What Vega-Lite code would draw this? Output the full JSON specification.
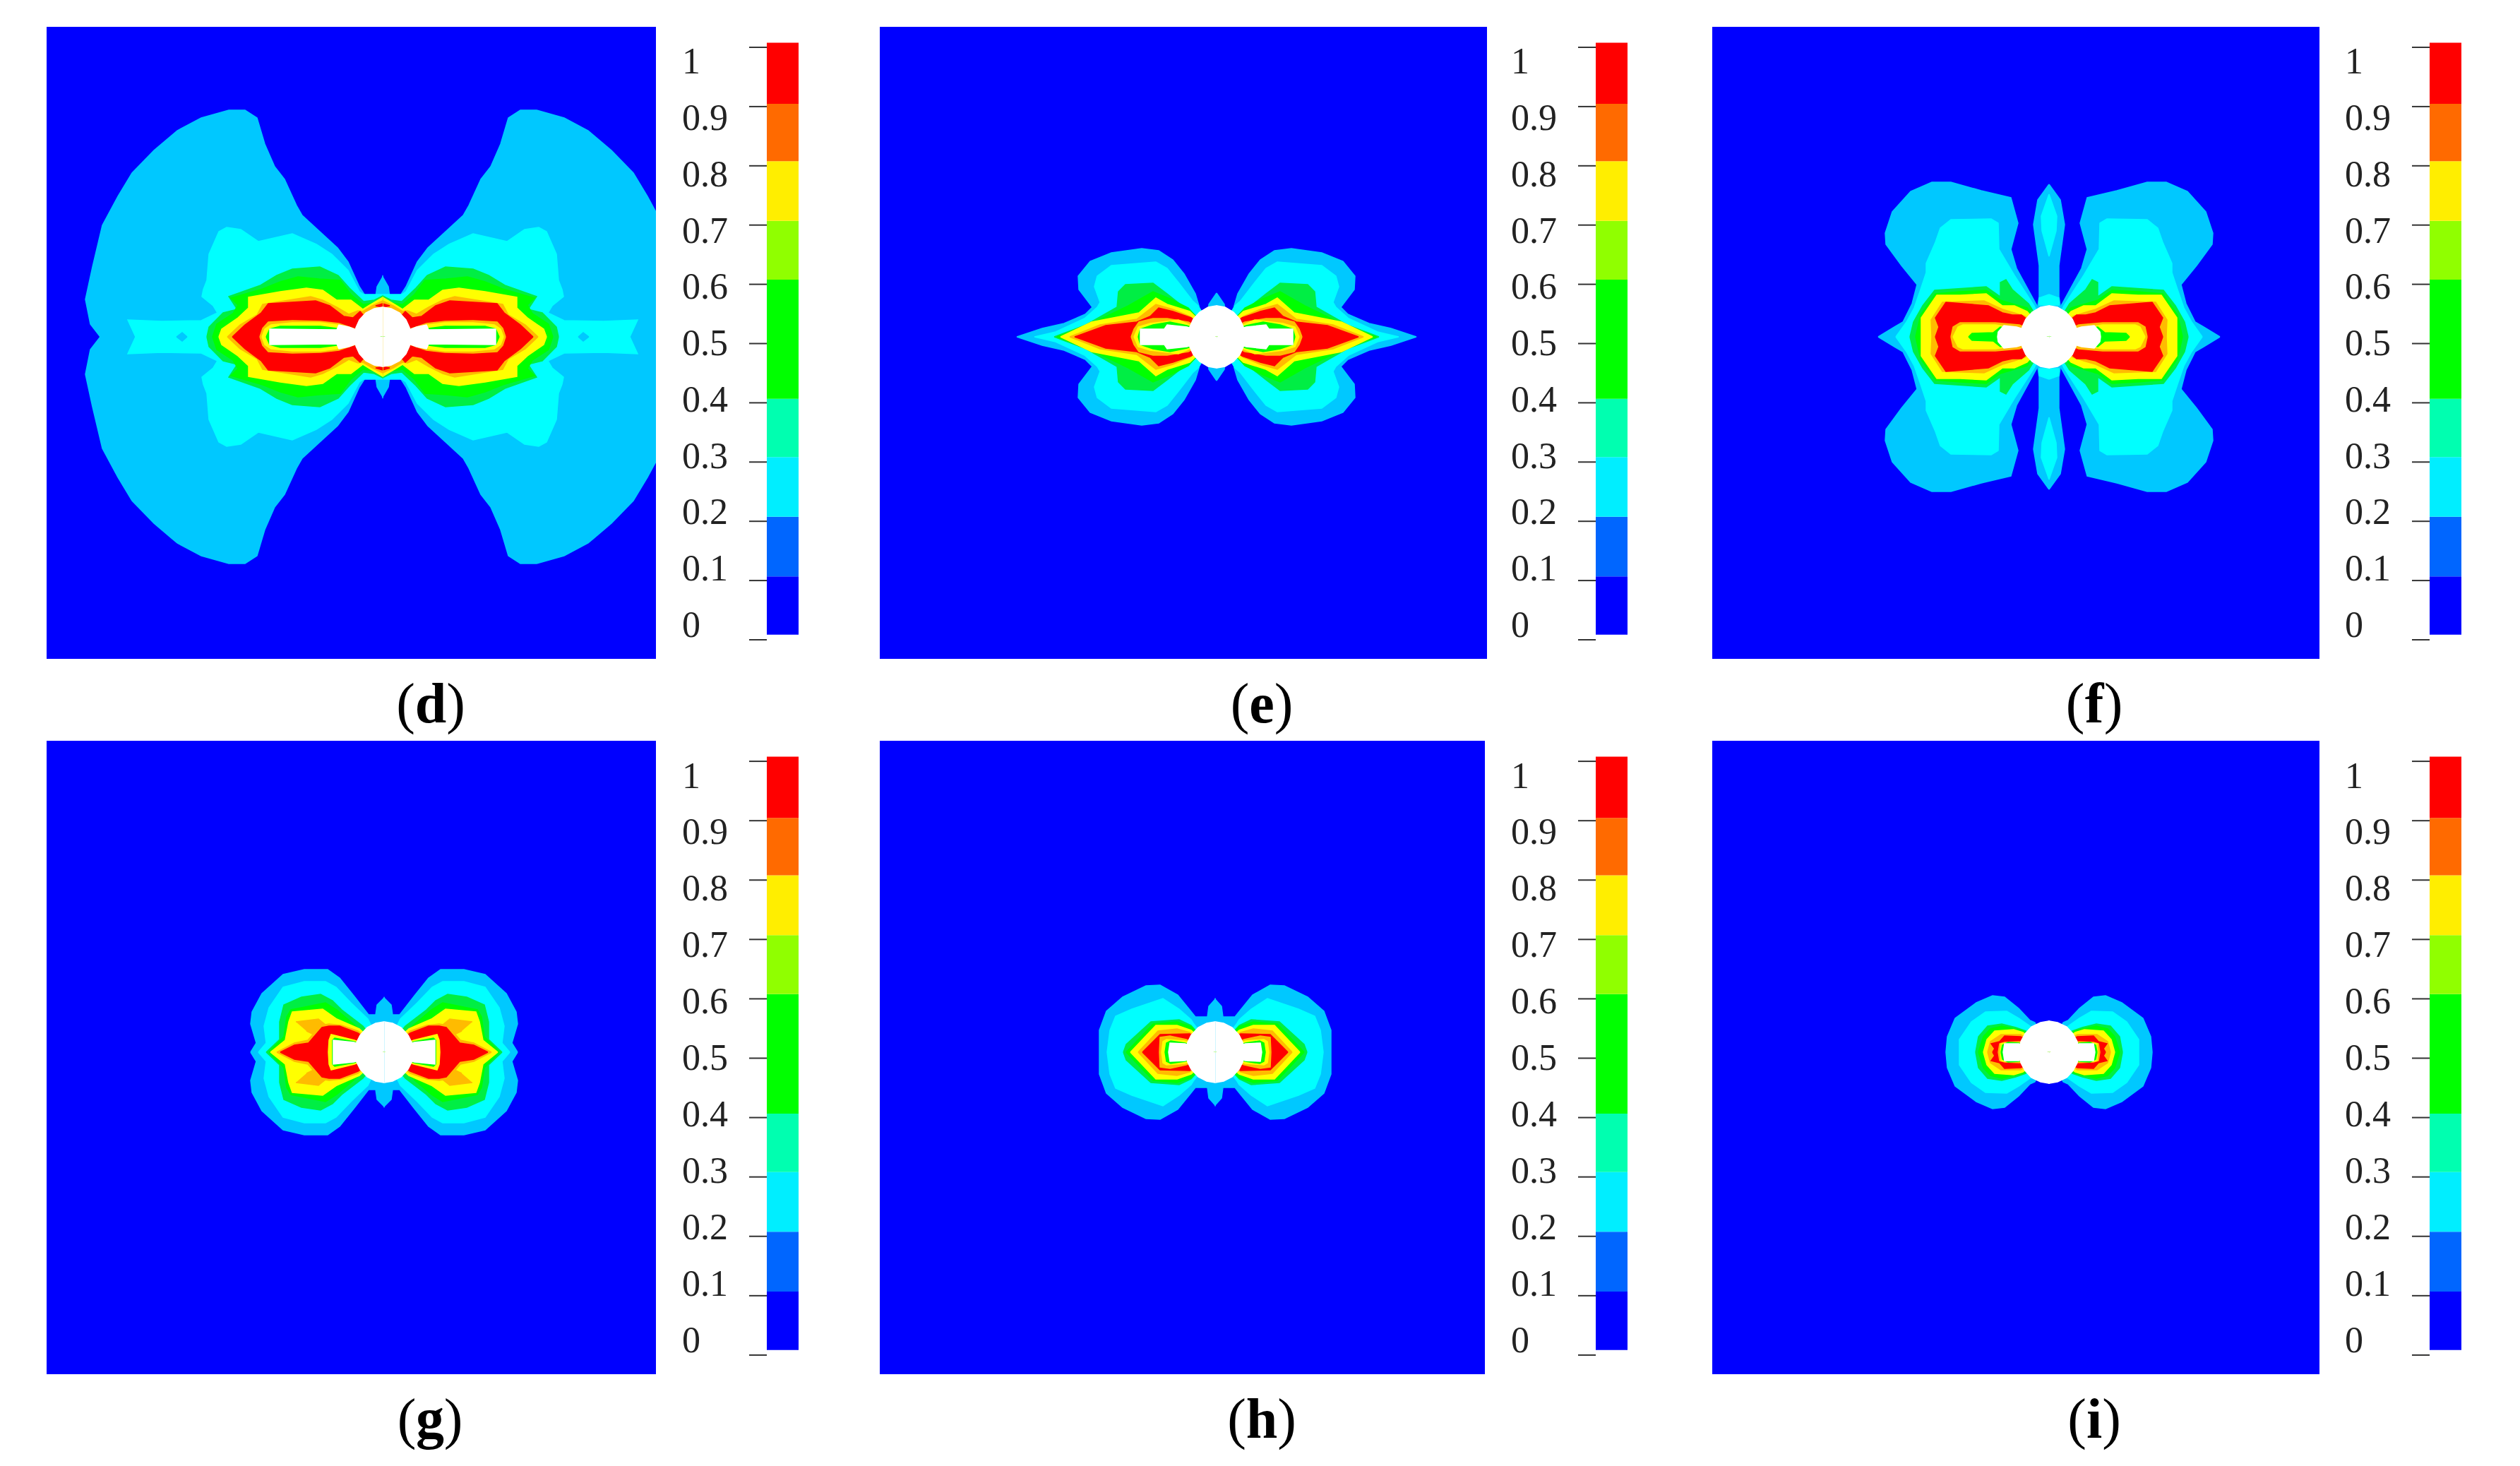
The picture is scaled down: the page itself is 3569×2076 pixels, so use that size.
{"$schema":"https://vega.github.io/schema/vega-lite/v6.json","background":"white","padding":{"left":66,"top":38,"right":0,"bottom":130},"bounds":"flush","columns":6,"spacing":{"row":116,"column":0},"config":{"view":{"stroke":null}},"resolve":{"scale":{"color":"independent"}},
"datasets":{
"bars":[{"lo":0.0085,"hi":0.1069,"c":"a"},{"lo":0.1069,"hi":0.2076,"c":"b"},{"lo":0.2076,"hi":0.3083,"c":"c"},{"lo":0.3083,"hi":0.4066,"c":"d"},{"lo":0.4066,"hi":0.608,"c":"e"},{"lo":0.608,"hi":0.7072,"c":"f"},{"lo":0.7072,"hi":0.8079,"c":"g"},{"lo":0.8079,"hi":0.9047,"c":"h"},{"lo":0.9047,"hi":1.0077,"c":"i"}],
"ticks":[{"v":0},{"v":0.1},{"v":0.2},{"v":0.3},{"v":0.4},{"v":0.5},{"v":0.6},{"v":0.7},{"v":0.8},{"v":0.9},{"v":1}],
"d":[{"g":1,"l":1,"x":400,"y":0},{"g":1,"l":1,"x":414,"y":18},{"g":1,"l":1,"x":421,"y":53},{"g":1,"l":1,"x":411,"y":99},{"g":1,"l":1,"x":397,"y":158},{"g":1,"l":1,"x":375,"y":199},{"g":1,"l":1,"x":355,"y":232},{"g":1,"l":1,"x":324,"y":264},{"g":1,"l":1,"x":291,"y":292},{"g":1,"l":1,"x":257,"y":310},{"g":1,"l":1,"x":218,"y":321},{"g":1,"l":1,"x":195,"y":321},{"g":1,"l":1,"x":178,"y":310},{"g":1,"l":1,"x":167,"y":273},{"g":1,"l":1,"x":153,"y":241},{"g":1,"l":1,"x":139,"y":223},{"g":1,"l":1,"x":122,"y":186},{"g":1,"l":1,"x":114,"y":172},{"g":1,"l":1,"x":89,"y":149},{"g":1,"l":1,"x":64,"y":126},{"g":1,"l":1,"x":49,"y":106},{"g":1,"l":1,"x":33,"y":71},{"g":1,"l":1,"x":24,"y":57},{"g":1,"l":1,"x":10,"y":57},{"g":1,"l":1,"x":8,"y":71},{"g":1,"l":1,"x":0,"y":85},{"g":1,"l":1,"x":0,"y":0},
{"g":2,"l":2,"x":350,"y":0},{"g":2,"l":2,"x":361,"y":24},{"g":2,"l":2,"x":313,"y":22},{"g":2,"l":2,"x":257,"y":23},{"g":2,"l":2,"x":234,"y":34},{"g":2,"l":2,"x":240,"y":44},{"g":2,"l":2,"x":256,"y":57},{"g":2,"l":2,"x":254,"y":67},{"g":2,"l":2,"x":249,"y":80},{"g":2,"l":2,"x":246,"y":117},{"g":2,"l":2,"x":232,"y":149},{"g":2,"l":2,"x":221,"y":155},{"g":2,"l":2,"x":201,"y":152},{"g":2,"l":2,"x":176,"y":135},{"g":2,"l":2,"x":128,"y":146},{"g":2,"l":2,"x":94,"y":131},{"g":2,"l":2,"x":72,"y":117},{"g":2,"l":2,"x":49,"y":94},{"g":2,"l":2,"x":33,"y":64},{"g":2,"l":2,"x":27,"y":60},{"g":2,"l":2,"x":0,"y":60},{"g":2,"l":2,"x":0,"y":0},
{"g":3,"l":1,"x":292,"y":0},{"g":3,"l":1,"x":284,"y":6},{"g":3,"l":1,"x":277,"y":0},
{"g":4,"l":3,"x":249,"y":0},{"g":4,"l":3,"x":246,"y":14},{"g":4,"l":3,"x":226,"y":34},{"g":4,"l":3,"x":206,"y":39},{"g":4,"l":3,"x":218,"y":57},{"g":4,"l":3,"x":173,"y":73},{"g":4,"l":3,"x":150,"y":87},{"g":4,"l":3,"x":128,"y":96},{"g":4,"l":3,"x":89,"y":99},{"g":4,"l":3,"x":63,"y":87},{"g":4,"l":3,"x":47,"y":69},{"g":4,"l":3,"x":27,"y":50},{"g":4,"l":3,"x":12,"y":52},{"g":4,"l":3,"x":0,"y":58},{"g":4,"l":3,"x":0,"y":0},
{"g":5,"l":4,"x":241,"y":0},{"g":5,"l":4,"x":235,"y":18},{"g":5,"l":4,"x":212,"y":33},{"g":5,"l":4,"x":205,"y":45},{"g":5,"l":4,"x":215,"y":55},{"g":5,"l":4,"x":170,"y":68},{"g":5,"l":4,"x":145,"y":78},{"g":5,"l":4,"x":120,"y":85},{"g":5,"l":4,"x":90,"y":82},{"g":5,"l":4,"x":60,"y":80},{"g":5,"l":4,"x":45,"y":60},{"g":5,"l":4,"x":28,"y":46},{"g":5,"l":4,"x":12,"y":48},{"g":5,"l":4,"x":0,"y":53},{"g":5,"l":4,"x":0,"y":0},
{"g":6,"l":5,"x":232,"y":0},{"g":6,"l":5,"x":228,"y":11},{"g":6,"l":5,"x":205,"y":27},{"g":6,"l":5,"x":190,"y":41},{"g":6,"l":5,"x":190,"y":56},{"g":6,"l":5,"x":145,"y":64},{"g":6,"l":5,"x":108,"y":69},{"g":6,"l":5,"x":85,"y":66},{"g":6,"l":5,"x":65,"y":52},{"g":6,"l":5,"x":45,"y":52},{"g":6,"l":5,"x":28,"y":39},{"g":6,"l":5,"x":20,"y":44},{"g":6,"l":5,"x":0,"y":56},{"g":6,"l":5,"x":0,"y":0},
{"g":7,"l":6,"x":220,"y":0},{"g":7,"l":6,"x":202,"y":17},{"g":7,"l":6,"x":178,"y":31},{"g":7,"l":6,"x":170,"y":46},{"g":7,"l":6,"x":102,"y":57},{"g":7,"l":6,"x":85,"y":52},{"g":7,"l":6,"x":65,"y":42},{"g":7,"l":6,"x":48,"y":32},{"g":7,"l":6,"x":35,"y":37},{"g":7,"l":6,"x":28,"y":36},{"g":7,"l":6,"x":15,"y":44},{"g":7,"l":6,"x":0,"y":51},{"g":7,"l":6,"x":0,"y":0},
{"g":8,"l":7,"x":213,"y":0},{"g":8,"l":7,"x":195,"y":17},{"g":8,"l":7,"x":172,"y":34},{"g":8,"l":7,"x":162,"y":47},{"g":8,"l":7,"x":95,"y":51},{"g":8,"l":7,"x":75,"y":44},{"g":8,"l":7,"x":55,"y":29},{"g":8,"l":7,"x":42,"y":27},{"g":8,"l":7,"x":32,"y":36},{"g":8,"l":7,"x":0,"y":0},
{"g":9,"l":7,"x":0,"y":47},{"g":9,"l":7,"x":10,"y":44},{"g":9,"l":7,"x":0,"y":42},
{"g":10,"l":6,"x":174,"y":0},{"g":10,"l":6,"x":170,"y":12},{"g":10,"l":6,"x":162,"y":21},{"g":10,"l":6,"x":128,"y":23},{"g":10,"l":6,"x":88,"y":22},{"g":10,"l":6,"x":62,"y":19},{"g":10,"l":6,"x":42,"y":12},{"g":10,"l":6,"x":0,"y":0},
{"g":11,"l":5,"x":171,"y":0},{"g":11,"l":5,"x":167,"y":11},{"g":11,"l":5,"x":158,"y":17},{"g":11,"l":5,"x":128,"y":20},{"g":11,"l":5,"x":88,"y":20},{"g":11,"l":5,"x":65,"y":17},{"g":11,"l":5,"x":0,"y":0},
{"g":12,"l":4,"x":165,"y":0},{"g":12,"l":4,"x":160,"y":11},{"g":12,"l":4,"x":145,"y":15},{"g":12,"l":4,"x":88,"y":15},{"g":12,"l":4,"x":65,"y":12},{"g":12,"l":4,"x":0,"y":0},
{"g":13,"l":8,"x":160,"y":0},{"g":13,"l":8,"x":160,"y":11},{"g":13,"l":8,"x":65,"y":10},{"g":13,"l":8,"x":62,"y":17},{"g":13,"l":8,"x":48,"y":14},{"g":13,"l":8,"x":40,"y":11},{"g":13,"l":8,"x":0,"y":0},
{"g":14,"l":8,"x":40,"y":0},{"g":14,"l":8,"x":38,"y":13},{"g":14,"l":8,"x":33,"y":24},{"g":14,"l":8,"x":24,"y":34},{"g":14,"l":8,"x":12,"y":40},{"g":14,"l":8,"x":0,"y":42},{"g":14,"l":8,"x":0,"y":0}],
"e":[{"g":1,"l":1,"x":283,"y":0},{"g":1,"l":1,"x":247,"y":12},{"g":1,"l":1,"x":216,"y":19},{"g":1,"l":1,"x":186,"y":32},{"g":1,"l":1,"x":176,"y":42},{"g":1,"l":1,"x":195,"y":67},{"g":1,"l":1,"x":196,"y":86},{"g":1,"l":1,"x":179,"y":107},{"g":1,"l":1,"x":149,"y":119},{"g":1,"l":1,"x":106,"y":125},{"g":1,"l":1,"x":82,"y":122},{"g":1,"l":1,"x":62,"y":109},{"g":1,"l":1,"x":46,"y":89},{"g":1,"l":1,"x":30,"y":61},{"g":1,"l":1,"x":25,"y":44},{"g":1,"l":1,"x":22,"y":25},{"g":1,"l":1,"x":0,"y":0},
{"g":2,"l":1,"x":0,"y":62},{"g":2,"l":1,"x":11,"y":46},{"g":2,"l":1,"x":12,"y":30},{"g":2,"l":1,"x":0,"y":0},
{"g":3,"l":2,"x":258,"y":0},{"g":3,"l":2,"x":228,"y":7},{"g":3,"l":2,"x":187,"y":26},{"g":3,"l":2,"x":169,"y":42},{"g":3,"l":2,"x":165,"y":49},{"g":3,"l":2,"x":173,"y":71},{"g":3,"l":2,"x":169,"y":86},{"g":3,"l":2,"x":149,"y":101},{"g":3,"l":2,"x":86,"y":106},{"g":3,"l":2,"x":70,"y":97},{"g":3,"l":2,"x":54,"y":77},{"g":3,"l":2,"x":34,"y":51},{"g":3,"l":2,"x":26,"y":44},{"g":3,"l":2,"x":0,"y":0},
{"g":4,"l":3,"x":230,"y":0},{"g":4,"l":3,"x":185,"y":17},{"g":4,"l":3,"x":141,"y":42},{"g":4,"l":3,"x":139,"y":64},{"g":4,"l":3,"x":129,"y":74},{"g":4,"l":3,"x":90,"y":76},{"g":4,"l":3,"x":70,"y":61},{"g":4,"l":3,"x":46,"y":42},{"g":4,"l":3,"x":34,"y":34},{"g":4,"l":3,"x":0,"y":0},
{"g":5,"l":4,"x":226,"y":0},{"g":5,"l":4,"x":181,"y":17},{"g":5,"l":4,"x":125,"y":44},{"g":5,"l":4,"x":90,"y":64},{"g":5,"l":4,"x":66,"y":54},{"g":5,"l":4,"x":40,"y":41},{"g":5,"l":4,"x":32,"y":32},{"g":5,"l":4,"x":0,"y":0},
{"g":6,"l":5,"x":221,"y":0},{"g":6,"l":5,"x":177,"y":21},{"g":6,"l":5,"x":110,"y":34},{"g":6,"l":5,"x":86,"y":55},{"g":6,"l":5,"x":70,"y":46},{"g":6,"l":5,"x":38,"y":36},{"g":6,"l":5,"x":0,"y":0},
{"g":7,"l":6,"x":208,"y":0},{"g":7,"l":6,"x":165,"y":17},{"g":7,"l":6,"x":113,"y":25},{"g":7,"l":6,"x":86,"y":46},{"g":7,"l":6,"x":62,"y":39},{"g":7,"l":6,"x":38,"y":29},{"g":7,"l":6,"x":0,"y":0},
{"g":8,"l":7,"x":201,"y":0},{"g":8,"l":7,"x":157,"y":16},{"g":8,"l":7,"x":113,"y":21},{"g":8,"l":7,"x":94,"y":29},{"g":8,"l":7,"x":82,"y":41},{"g":8,"l":7,"x":62,"y":36},{"g":8,"l":7,"x":36,"y":27},{"g":8,"l":7,"x":0,"y":0},
{"g":9,"l":6,"x":121,"y":0},{"g":9,"l":6,"x":117,"y":11},{"g":9,"l":6,"x":110,"y":21},{"g":9,"l":6,"x":90,"y":26},{"g":9,"l":6,"x":70,"y":26},{"g":9,"l":6,"x":40,"y":21},{"g":9,"l":6,"x":0,"y":0},
{"g":10,"l":5,"x":117,"y":0},{"g":10,"l":5,"x":111,"y":14},{"g":10,"l":5,"x":94,"y":19},{"g":10,"l":5,"x":54,"y":24},{"g":10,"l":5,"x":38,"y":17},{"g":10,"l":5,"x":0,"y":0},
{"g":11,"l":4,"x":111,"y":0},{"g":11,"l":4,"x":108,"y":11},{"g":11,"l":4,"x":90,"y":17},{"g":11,"l":4,"x":66,"y":21},{"g":11,"l":4,"x":42,"y":16},{"g":11,"l":4,"x":0,"y":0},
{"g":12,"l":8,"x":108,"y":0},{"g":12,"l":8,"x":108,"y":11},{"g":12,"l":8,"x":74,"y":11},{"g":12,"l":8,"x":70,"y":17},{"g":12,"l":8,"x":42,"y":14},{"g":12,"l":8,"x":0,"y":0},
{"g":13,"l":8,"x":40,"y":0},{"g":13,"l":8,"x":38,"y":14},{"g":13,"l":8,"x":33,"y":25},{"g":13,"l":8,"x":24,"y":35},{"g":13,"l":8,"x":12,"y":42},{"g":13,"l":8,"x":0,"y":44},{"g":13,"l":8,"x":0,"y":0}],
"f":[{"g":1,"l":1,"x":242,"y":0},{"g":1,"l":1,"x":219,"y":14},{"g":1,"l":1,"x":207,"y":21},{"g":1,"l":1,"x":194,"y":47},{"g":1,"l":1,"x":187,"y":74},{"g":1,"l":1,"x":209,"y":101},{"g":1,"l":1,"x":231,"y":131},{"g":1,"l":1,"x":232,"y":147},{"g":1,"l":1,"x":222,"y":177},{"g":1,"l":1,"x":196,"y":206},{"g":1,"l":1,"x":166,"y":219},{"g":1,"l":1,"x":139,"y":219},{"g":1,"l":1,"x":96,"y":207},{"g":1,"l":1,"x":54,"y":197},{"g":1,"l":1,"x":44,"y":161},{"g":1,"l":1,"x":54,"y":124},{"g":1,"l":1,"x":46,"y":97},{"g":1,"l":1,"x":17,"y":44},{"g":1,"l":1,"x":0,"y":0},
{"g":2,"l":1,"x":0,"y":216},{"g":2,"l":1,"x":16,"y":194},{"g":2,"l":1,"x":22,"y":159},{"g":2,"l":1,"x":14,"y":101},{"g":2,"l":1,"x":14,"y":57},{"g":2,"l":1,"x":16,"y":44},{"g":2,"l":1,"x":0,"y":0},
{"g":3,"l":2,"x":0,"y":202},{"g":3,"l":2,"x":11,"y":171},{"g":3,"l":2,"x":10,"y":150},{"g":3,"l":2,"x":0,"y":114},
{"g":4,"l":2,"x":0,"y":60},{"g":4,"l":2,"x":14,"y":55},{"g":4,"l":2,"x":14,"y":45},{"g":4,"l":2,"x":0,"y":45},
{"g":5,"l":2,"x":217,"y":0},{"g":5,"l":2,"x":202,"y":21},{"g":5,"l":2,"x":191,"y":41},{"g":5,"l":2,"x":182,"y":67},{"g":5,"l":2,"x":174,"y":91},{"g":5,"l":2,"x":174,"y":104},{"g":5,"l":2,"x":161,"y":134},{"g":5,"l":2,"x":154,"y":154},{"g":5,"l":2,"x":139,"y":166},{"g":5,"l":2,"x":82,"y":167},{"g":5,"l":2,"x":72,"y":161},{"g":5,"l":2,"x":71,"y":124},{"g":5,"l":2,"x":49,"y":87},{"g":5,"l":2,"x":21,"y":44},{"g":5,"l":2,"x":0,"y":0},
{"g":6,"l":3,"x":197,"y":0},{"g":6,"l":3,"x":192,"y":21},{"g":6,"l":3,"x":179,"y":44},{"g":6,"l":3,"x":162,"y":66},{"g":6,"l":3,"x":89,"y":71},{"g":6,"l":3,"x":69,"y":57},{"g":6,"l":3,"x":69,"y":77},{"g":6,"l":3,"x":61,"y":81},{"g":6,"l":3,"x":52,"y":67},{"g":6,"l":3,"x":29,"y":47},{"g":6,"l":3,"x":0,"y":0},
{"g":7,"l":4,"x":189,"y":0},{"g":7,"l":4,"x":182,"y":31},{"g":7,"l":4,"x":161,"y":61},{"g":7,"l":4,"x":126,"y":64},{"g":7,"l":4,"x":89,"y":66},{"g":7,"l":4,"x":69,"y":52},{"g":7,"l":4,"x":49,"y":46},{"g":7,"l":4,"x":31,"y":41},{"g":7,"l":4,"x":0,"y":0},
{"g":8,"l":5,"x":181,"y":0},{"g":8,"l":5,"x":181,"y":27},{"g":8,"l":5,"x":159,"y":59},{"g":8,"l":5,"x":126,"y":59},{"g":8,"l":5,"x":89,"y":61},{"g":8,"l":5,"x":66,"y":44},{"g":8,"l":5,"x":49,"y":44},{"g":8,"l":5,"x":31,"y":36},{"g":8,"l":5,"x":0,"y":0},
{"g":9,"l":6,"x":166,"y":0},{"g":9,"l":6,"x":167,"y":24},{"g":9,"l":6,"x":151,"y":49},{"g":9,"l":6,"x":92,"y":51},{"g":9,"l":6,"x":66,"y":39},{"g":9,"l":6,"x":49,"y":34},{"g":9,"l":6,"x":34,"y":29},{"g":9,"l":6,"x":0,"y":0},
{"g":10,"l":7,"x":161,"y":0},{"g":10,"l":7,"x":156,"y":14},{"g":10,"l":7,"x":161,"y":27},{"g":10,"l":7,"x":146,"y":49},{"g":10,"l":7,"x":86,"y":44},{"g":10,"l":7,"x":66,"y":34},{"g":10,"l":7,"x":52,"y":31},{"g":10,"l":7,"x":39,"y":31},{"g":10,"l":7,"x":0,"y":0},
{"g":11,"l":6,"x":139,"y":0},{"g":11,"l":6,"x":136,"y":14},{"g":11,"l":6,"x":126,"y":20},{"g":11,"l":6,"x":76,"y":20},{"g":11,"l":6,"x":42,"y":17},{"g":11,"l":6,"x":0,"y":0},
{"g":12,"l":5,"x":136,"y":0},{"g":12,"l":5,"x":129,"y":14},{"g":12,"l":5,"x":122,"y":17},{"g":12,"l":5,"x":76,"y":17},{"g":12,"l":5,"x":42,"y":12},{"g":12,"l":5,"x":0,"y":0},
{"g":13,"l":4,"x":114,"y":0},{"g":13,"l":4,"x":109,"y":5},{"g":13,"l":4,"x":79,"y":6},{"g":13,"l":4,"x":69,"y":14},{"g":13,"l":4,"x":0,"y":0},
{"g":14,"l":8,"x":73,"y":0},{"g":14,"l":8,"x":72,"y":7},{"g":14,"l":8,"x":64,"y":16},{"g":14,"l":8,"x":46,"y":14},{"g":14,"l":8,"x":0,"y":0},
{"g":15,"l":8,"x":40,"y":0},{"g":15,"l":8,"x":38,"y":14},{"g":15,"l":8,"x":33,"y":25},{"g":15,"l":8,"x":24,"y":35},{"g":15,"l":8,"x":12,"y":42},{"g":15,"l":8,"x":0,"y":44},{"g":15,"l":8,"x":0,"y":0}],
"g":[{"g":1,"l":1,"x":189,"y":0},{"g":1,"l":1,"x":181,"y":13},{"g":1,"l":1,"x":189,"y":40},{"g":1,"l":1,"x":187,"y":57},{"g":1,"l":1,"x":173,"y":83},{"g":1,"l":1,"x":143,"y":110},{"g":1,"l":1,"x":113,"y":117},{"g":1,"l":1,"x":80,"y":117},{"g":1,"l":1,"x":63,"y":105},{"g":1,"l":1,"x":43,"y":80},{"g":1,"l":1,"x":22,"y":53},{"g":1,"l":1,"x":12,"y":53},{"g":1,"l":1,"x":10,"y":67},{"g":1,"l":1,"x":0,"y":77},{"g":1,"l":1,"x":0,"y":0},
{"g":2,"l":2,"x":178,"y":0},{"g":2,"l":2,"x":167,"y":13},{"g":2,"l":2,"x":170,"y":37},{"g":2,"l":2,"x":163,"y":63},{"g":2,"l":2,"x":143,"y":92},{"g":2,"l":2,"x":113,"y":100},{"g":2,"l":2,"x":83,"y":100},{"g":2,"l":2,"x":68,"y":92},{"g":2,"l":2,"x":47,"y":70},{"g":2,"l":2,"x":23,"y":47},{"g":2,"l":2,"x":0,"y":0},
{"g":3,"l":3,"x":167,"y":0},{"g":3,"l":3,"x":148,"y":18},{"g":3,"l":3,"x":148,"y":43},{"g":3,"l":3,"x":142,"y":67},{"g":3,"l":3,"x":117,"y":78},{"g":3,"l":3,"x":90,"y":82},{"g":3,"l":3,"x":73,"y":73},{"g":3,"l":3,"x":60,"y":60},{"g":3,"l":3,"x":30,"y":37},{"g":3,"l":3,"x":0,"y":0},
{"g":4,"l":4,"x":163,"y":0},{"g":4,"l":4,"x":142,"y":22},{"g":4,"l":4,"x":138,"y":50},{"g":4,"l":4,"x":132,"y":60},{"g":4,"l":4,"x":83,"y":70},{"g":4,"l":4,"x":67,"y":60},{"g":4,"l":4,"x":40,"y":37},{"g":4,"l":4,"x":0,"y":0},
{"g":5,"l":5,"x":161,"y":0},{"g":5,"l":5,"x":140,"y":17},{"g":5,"l":5,"x":135,"y":43},{"g":5,"l":5,"x":130,"y":57},{"g":5,"l":5,"x":87,"y":61},{"g":5,"l":5,"x":67,"y":47},{"g":5,"l":5,"x":35,"y":33},{"g":5,"l":5,"x":0,"y":0},
{"g":6,"l":6,"x":125,"y":43},{"g":6,"l":6,"x":93,"y":47},{"g":6,"l":6,"x":82,"y":38},{"g":6,"l":6,"x":100,"y":25},{"g":6,"l":6,"x":110,"y":30},
{"g":7,"l":6,"x":152,"y":0},{"g":7,"l":6,"x":127,"y":13},{"g":7,"l":6,"x":108,"y":17},{"g":7,"l":6,"x":90,"y":38},{"g":7,"l":6,"x":78,"y":40},{"g":7,"l":6,"x":60,"y":38},{"g":7,"l":6,"x":37,"y":30},{"g":7,"l":6,"x":0,"y":0},
{"g":8,"l":7,"x":147,"y":0},{"g":8,"l":7,"x":127,"y":10},{"g":8,"l":7,"x":107,"y":13},{"g":8,"l":7,"x":88,"y":35},{"g":8,"l":7,"x":78,"y":37},{"g":8,"l":7,"x":63,"y":37},{"g":8,"l":7,"x":37,"y":27},{"g":8,"l":7,"x":0,"y":0},
{"g":9,"l":5,"x":79,"y":0},{"g":9,"l":5,"x":78,"y":17},{"g":9,"l":5,"x":75,"y":25},{"g":9,"l":5,"x":42,"y":17},{"g":9,"l":5,"x":0,"y":0},
{"g":10,"l":4,"x":73,"y":0},{"g":10,"l":4,"x":73,"y":17},{"g":10,"l":4,"x":70,"y":20},{"g":10,"l":4,"x":43,"y":15},{"g":10,"l":4,"x":0,"y":0},
{"g":11,"l":8,"x":72,"y":0},{"g":11,"l":8,"x":72,"y":17},{"g":11,"l":8,"x":43,"y":14},{"g":11,"l":8,"x":0,"y":0},
{"g":12,"l":8,"x":41,"y":0},{"g":12,"l":8,"x":39,"y":14},{"g":12,"l":8,"x":34,"y":24},{"g":12,"l":8,"x":24,"y":35},{"g":12,"l":8,"x":12,"y":41},{"g":12,"l":8,"x":0,"y":43},{"g":12,"l":8,"x":0,"y":0}],
"h":[{"g":1,"l":1,"x":164,"y":0},{"g":1,"l":1,"x":164,"y":31},{"g":1,"l":1,"x":154,"y":58},{"g":1,"l":1,"x":131,"y":78},{"g":1,"l":1,"x":98,"y":94},{"g":1,"l":1,"x":78,"y":95},{"g":1,"l":1,"x":53,"y":81},{"g":1,"l":1,"x":36,"y":60},{"g":1,"l":1,"x":28,"y":50},{"g":1,"l":1,"x":11,"y":50},{"g":1,"l":1,"x":9,"y":65},{"g":1,"l":1,"x":0,"y":75},{"g":1,"l":1,"x":0,"y":0},
{"g":2,"l":2,"x":153,"y":0},{"g":2,"l":2,"x":149,"y":31},{"g":2,"l":2,"x":141,"y":51},{"g":2,"l":2,"x":118,"y":61},{"g":2,"l":2,"x":74,"y":76},{"g":2,"l":2,"x":51,"y":61},{"g":2,"l":2,"x":34,"y":46},{"g":2,"l":2,"x":31,"y":41},{"g":2,"l":2,"x":0,"y":0},
{"g":3,"l":3,"x":130,"y":0},{"g":3,"l":3,"x":126,"y":11},{"g":3,"l":3,"x":91,"y":43},{"g":3,"l":3,"x":51,"y":46},{"g":3,"l":3,"x":34,"y":38},{"g":3,"l":3,"x":0,"y":0},
{"g":4,"l":4,"x":126,"y":0},{"g":4,"l":4,"x":88,"y":40},{"g":4,"l":4,"x":54,"y":43},{"g":4,"l":4,"x":34,"y":36},{"g":4,"l":4,"x":0,"y":0},
{"g":5,"l":5,"x":120,"y":0},{"g":5,"l":5,"x":84,"y":38},{"g":5,"l":5,"x":54,"y":38},{"g":5,"l":5,"x":34,"y":31},{"g":5,"l":5,"x":0,"y":0},
{"g":6,"l":6,"x":109,"y":0},{"g":6,"l":6,"x":81,"y":30},{"g":6,"l":6,"x":54,"y":33},{"g":6,"l":6,"x":36,"y":28},{"g":6,"l":6,"x":0,"y":0},
{"g":7,"l":7,"x":103,"y":0},{"g":7,"l":7,"x":78,"y":25},{"g":7,"l":7,"x":36,"y":26},{"g":7,"l":7,"x":0,"y":0},
{"g":8,"l":6,"x":79,"y":0},{"g":8,"l":6,"x":78,"y":21},{"g":8,"l":6,"x":64,"y":23},{"g":8,"l":6,"x":41,"y":18},{"g":8,"l":6,"x":0,"y":0},
{"g":9,"l":5,"x":76,"y":0},{"g":9,"l":5,"x":74,"y":15},{"g":9,"l":5,"x":69,"y":18},{"g":9,"l":5,"x":43,"y":16},{"g":9,"l":5,"x":0,"y":0},
{"g":10,"l":4,"x":71,"y":0},{"g":10,"l":4,"x":69,"y":13},{"g":10,"l":4,"x":63,"y":16},{"g":10,"l":4,"x":43,"y":13},{"g":10,"l":4,"x":0,"y":0},
{"g":11,"l":8,"x":66,"y":0},{"g":11,"l":8,"x":64,"y":13},{"g":11,"l":8,"x":43,"y":12},{"g":11,"l":8,"x":0,"y":0},
{"g":12,"l":8,"x":41,"y":0},{"g":12,"l":8,"x":39,"y":14},{"g":12,"l":8,"x":34,"y":24},{"g":12,"l":8,"x":24,"y":35},{"g":12,"l":8,"x":12,"y":41},{"g":12,"l":8,"x":0,"y":43},{"g":12,"l":8,"x":0,"y":0}],
"i":[{"g":1,"l":1,"x":146,"y":0},{"g":1,"l":1,"x":144,"y":22},{"g":1,"l":1,"x":133,"y":48},{"g":1,"l":1,"x":103,"y":70},{"g":1,"l":1,"x":80,"y":80},{"g":1,"l":1,"x":63,"y":78},{"g":1,"l":1,"x":43,"y":62},{"g":1,"l":1,"x":27,"y":45},{"g":1,"l":1,"x":20,"y":42},{"g":1,"l":1,"x":0,"y":0},
{"g":2,"l":2,"x":127,"y":0},{"g":2,"l":2,"x":127,"y":18},{"g":2,"l":2,"x":110,"y":43},{"g":2,"l":2,"x":90,"y":57},{"g":2,"l":2,"x":60,"y":58},{"g":2,"l":2,"x":43,"y":48},{"g":2,"l":2,"x":27,"y":37},{"g":2,"l":2,"x":0,"y":0},
{"g":3,"l":3,"x":104,"y":0},{"g":3,"l":3,"x":100,"y":22},{"g":3,"l":3,"x":87,"y":37},{"g":3,"l":3,"x":67,"y":40},{"g":3,"l":3,"x":47,"y":35},{"g":3,"l":3,"x":33,"y":30},{"g":3,"l":3,"x":0,"y":0},
{"g":4,"l":4,"x":100,"y":0},{"g":4,"l":4,"x":93,"y":22},{"g":4,"l":4,"x":83,"y":33},{"g":4,"l":4,"x":67,"y":37},{"g":4,"l":4,"x":37,"y":30},{"g":4,"l":4,"x":0,"y":0},
{"g":5,"l":5,"x":93,"y":0},{"g":5,"l":5,"x":88,"y":18},{"g":5,"l":5,"x":77,"y":30},{"g":5,"l":5,"x":50,"y":32},{"g":5,"l":5,"x":37,"y":28},{"g":5,"l":5,"x":0,"y":0},
{"g":6,"l":6,"x":87,"y":0},{"g":6,"l":6,"x":83,"y":15},{"g":6,"l":6,"x":68,"y":25},{"g":6,"l":6,"x":40,"y":25},{"g":6,"l":6,"x":0,"y":0},
{"g":7,"l":7,"x":80,"y":0},{"g":7,"l":7,"x":77,"y":5},{"g":7,"l":7,"x":82,"y":12},{"g":7,"l":7,"x":70,"y":15},{"g":7,"l":7,"x":63,"y":23},{"g":7,"l":7,"x":40,"y":22},{"g":7,"l":7,"x":0,"y":0},
{"g":8,"l":6,"x":72,"y":0},{"g":8,"l":6,"x":70,"y":12},{"g":8,"l":6,"x":63,"y":14},{"g":8,"l":6,"x":42,"y":15},{"g":8,"l":6,"x":0,"y":0},
{"g":9,"l":5,"x":69,"y":0},{"g":9,"l":5,"x":68,"y":12},{"g":9,"l":5,"x":62,"y":13},{"g":9,"l":5,"x":42,"y":13},{"g":9,"l":5,"x":0,"y":0},
{"g":10,"l":4,"x":68,"y":0},{"g":10,"l":4,"x":66,"y":10},{"g":10,"l":4,"x":58,"y":14},{"g":10,"l":4,"x":43,"y":13},{"g":10,"l":4,"x":0,"y":0},
{"g":11,"l":8,"x":65,"y":0},{"g":11,"l":8,"x":63,"y":12},{"g":11,"l":8,"x":43,"y":12},{"g":11,"l":8,"x":0,"y":0},
{"g":12,"l":8,"x":42,"y":0},{"g":12,"l":8,"x":40,"y":15},{"g":12,"l":8,"x":34,"y":26},{"g":12,"l":8,"x":25,"y":36},{"g":12,"l":8,"x":12,"y":42},{"g":12,"l":8,"x":0,"y":44},{"g":12,"l":8,"x":0,"y":0}]
},
"concat":[
{"width":863,"height":895,"view":{"fill":"#0000ff"},"resolve":{"scale":{"x":"independent","y":"independent"}},"data":{"name":"d"},"encoding":{"detail":{"field":"g"},"order":{"value":null},"fill":{"field":"l","type":"nominal","legend":null,"scale":{"domain":[1,2,3,4,5,6,7,8],"range":["#00c8ff","#00ffff","#00ee44","#00ff00","#ffff00","#ffbb00","#ff0000","#ffffff"]}},"color":{"field":"l","type":"nominal","legend":null,"scale":{"domain":[1,2,3,4,5,6,7,8],"range":["#00c8ff","#00ffff","#00ee44","#00ff00","#ffff00","#ffbb00","#ff0000","#ffffff"]}}},
"layer":[
{"mark":{"type":"line","clip":true,"strokeWidth":1.5},"encoding":{"x":{"field":"x","type":"quantitative","axis":null,"scale":{"domain":[-476,387]}},"y":{"field":"y","type":"quantitative","axis":null,"scale":{"domain":[-456,439]}}}},
{"mark":{"type":"line","clip":true,"strokeWidth":1.5},"encoding":{"x":{"field":"x","type":"quantitative","axis":null,"scale":{"domain":[476,-387]}},"y":{"field":"y","type":"quantitative","axis":null,"scale":{"domain":[-456,439]}}}},
{"mark":{"type":"line","clip":true,"strokeWidth":1.5},"encoding":{"x":{"field":"x","type":"quantitative","axis":null,"scale":{"domain":[-476,387]}},"y":{"field":"y","type":"quantitative","axis":null,"scale":{"domain":[456,-439]}}}},
{"mark":{"type":"line","clip":true,"strokeWidth":1.5},"encoding":{"x":{"field":"x","type":"quantitative","axis":null,"scale":{"domain":[476,-387]}},"y":{"field":"y","type":"quantitative","axis":null,"scale":{"domain":[456,-439]}}}},
{"data":{"values":[{"t":"("}]},"mark":{"type":"text","font":"Liberation Serif","fontSize":80,"align":"center","baseline":"alphabetic"},"encoding":{"fill":{"value":"#000000"},"color":{"value":"#000000"},"x":{"datum":32.5,"type":"quantitative","axis":null,"scale":{"domain":[-476,387]}},"y":{"datum":-546,"type":"quantitative","axis":null,"scale":{"domain":[-456,439]}},"text":{"field":"t"}}},
{"data":{"values":[{"t":"d"}]},"mark":{"type":"text","font":"Liberation Serif","fontSize":80,"fontWeight":"bold","align":"center","baseline":"alphabetic"},"encoding":{"fill":{"value":"#000000"},"color":{"value":"#000000"},"x":{"datum":68,"type":"quantitative","axis":null,"scale":{"domain":[-476,387]}},"y":{"datum":-546,"type":"quantitative","axis":null,"scale":{"domain":[-456,439]}},"text":{"field":"t"}}},
{"data":{"values":[{"t":")"}]},"mark":{"type":"text","font":"Liberation Serif","fontSize":80,"align":"center","baseline":"alphabetic"},"encoding":{"fill":{"value":"#000000"},"color":{"value":"#000000"},"x":{"datum":103.5,"type":"quantitative","axis":null,"scale":{"domain":[-476,387]}},"y":{"datum":-546,"type":"quantitative","axis":null,"scale":{"domain":[-456,439]}},"text":{"field":"t"}}}
]},
{"width":317,"height":895,"resolve":{"scale":{"y":"independent"}},"layer":[
{"data":{"name":"bars"},"mark":{"type":"rect"},"encoding":{"x":{"datum":157,"type":"quantitative","axis":null,"scale":{"domain":[0,317]}},"x2":{"datum":202},"y":{"field":"lo","type":"quantitative","axis":null,"scale":{"domain":[-0.0322,1.0346]}},"y2":{"field":"hi"},"color":{"field":"c","type":"nominal","legend":null,"scale":{"range":["#0000ff","#0066ff","#00eeff","#00ffb0","#00ff00","#90ff00","#ffee00","#ff6a00","#ff0000"]}}}},
{"data":{"name":"ticks"},"mark":{"type":"rule","color":"#333333","strokeWidth":2},"encoding":{"x":{"datum":132,"type":"quantitative","axis":null,"scale":{"domain":[0,317]}},"x2":{"datum":157},"y":{"field":"v","type":"quantitative","axis":null,"scale":{"domain":[-0.0322,1.0346]}}}},
{"data":{"name":"ticks"},"mark":{"type":"text","align":"left","baseline":"middle","font":"Liberation Serif","fontSize":52,"color":"#222222"},"encoding":{"x":{"datum":37,"type":"quantitative","axis":null,"scale":{"domain":[0,317]}},"y":{"field":"v","type":"quantitative","axis":null,"scale":{"domain":[-0.0591,1.0632]}},"text":{"field":"v","type":"quantitative"}}}
]},
{"width":860,"height":895,"view":{"fill":"#0000ff"},"resolve":{"scale":{"x":"independent","y":"independent"}},"data":{"name":"e"},"encoding":{"detail":{"field":"g"},"order":{"value":null},"fill":{"field":"l","type":"nominal","legend":null,"scale":{"domain":[1,2,3,4,5,6,7,8],"range":["#00c8ff","#00ffff","#00ee44","#00ff00","#ffff00","#ffbb00","#ff0000","#ffffff"]}},"color":{"field":"l","type":"nominal","legend":null,"scale":{"domain":[1,2,3,4,5,6,7,8],"range":["#00c8ff","#00ffff","#00ee44","#00ff00","#ffff00","#ffbb00","#ff0000","#ffffff"]}}},
"layer":[
{"mark":{"type":"line","clip":true,"strokeWidth":1.5},"encoding":{"x":{"field":"x","type":"quantitative","axis":null,"scale":{"domain":[-477,383]}},"y":{"field":"y","type":"quantitative","axis":null,"scale":{"domain":[-456,439]}}}},
{"mark":{"type":"line","clip":true,"strokeWidth":1.5},"encoding":{"x":{"field":"x","type":"quantitative","axis":null,"scale":{"domain":[477,-383]}},"y":{"field":"y","type":"quantitative","axis":null,"scale":{"domain":[-456,439]}}}},
{"mark":{"type":"line","clip":true,"strokeWidth":1.5},"encoding":{"x":{"field":"x","type":"quantitative","axis":null,"scale":{"domain":[-477,383]}},"y":{"field":"y","type":"quantitative","axis":null,"scale":{"domain":[456,-439]}}}},
{"mark":{"type":"line","clip":true,"strokeWidth":1.5},"encoding":{"x":{"field":"x","type":"quantitative","axis":null,"scale":{"domain":[477,-383]}},"y":{"field":"y","type":"quantitative","axis":null,"scale":{"domain":[456,-439]}}}},
{"data":{"values":[{"t":"("}]},"mark":{"type":"text","font":"Liberation Serif","fontSize":80,"align":"center","baseline":"alphabetic"},"encoding":{"fill":{"value":"#000000"},"color":{"value":"#000000"},"x":{"datum":33,"type":"quantitative","axis":null,"scale":{"domain":[-477,383]}},"y":{"datum":-546,"type":"quantitative","axis":null,"scale":{"domain":[-456,439]}},"text":{"field":"t"}}},
{"data":{"values":[{"t":"e"}]},"mark":{"type":"text","font":"Liberation Serif","fontSize":80,"fontWeight":"bold","align":"center","baseline":"alphabetic"},"encoding":{"fill":{"value":"#000000"},"color":{"value":"#000000"},"x":{"datum":64,"type":"quantitative","axis":null,"scale":{"domain":[-477,383]}},"y":{"datum":-546,"type":"quantitative","axis":null,"scale":{"domain":[-456,439]}},"text":{"field":"t"}}},
{"data":{"values":[{"t":")"}]},"mark":{"type":"text","font":"Liberation Serif","fontSize":80,"align":"center","baseline":"alphabetic"},"encoding":{"fill":{"value":"#000000"},"color":{"value":"#000000"},"x":{"datum":95,"type":"quantitative","axis":null,"scale":{"domain":[-477,383]}},"y":{"datum":-546,"type":"quantitative","axis":null,"scale":{"domain":[-456,439]}},"text":{"field":"t"}}}
]},
{"width":319,"height":895,"resolve":{"scale":{"y":"independent"}},"layer":[
{"data":{"name":"bars"},"mark":{"type":"rect"},"encoding":{"x":{"datum":157,"type":"quantitative","axis":null,"scale":{"domain":[3,322]}},"x2":{"datum":202},"y":{"field":"lo","type":"quantitative","axis":null,"scale":{"domain":[-0.0322,1.0346]}},"y2":{"field":"hi"},"color":{"field":"c","type":"nominal","legend":null,"scale":{"range":["#0000ff","#0066ff","#00eeff","#00ffb0","#00ff00","#90ff00","#ffee00","#ff6a00","#ff0000"]}}}},
{"data":{"name":"ticks"},"mark":{"type":"rule","color":"#333333","strokeWidth":2},"encoding":{"x":{"datum":132,"type":"quantitative","axis":null,"scale":{"domain":[3,322]}},"x2":{"datum":157},"y":{"field":"v","type":"quantitative","axis":null,"scale":{"domain":[-0.0322,1.0346]}}}},
{"data":{"name":"ticks"},"mark":{"type":"text","align":"left","baseline":"middle","font":"Liberation Serif","fontSize":52,"color":"#222222"},"encoding":{"x":{"datum":37,"type":"quantitative","axis":null,"scale":{"domain":[3,322]}},"y":{"field":"v","type":"quantitative","axis":null,"scale":{"domain":[-0.0591,1.0632]}},"text":{"field":"v","type":"quantitative"}}}
]},
{"width":860,"height":895,"view":{"fill":"#0000ff"},"resolve":{"scale":{"x":"independent","y":"independent"}},"data":{"name":"f"},"encoding":{"detail":{"field":"g"},"order":{"value":null},"fill":{"field":"l","type":"nominal","legend":null,"scale":{"domain":[1,2,3,4,5,6,7,8],"range":["#00c8ff","#00ffff","#00ee44","#00ff00","#ffff00","#ffbb00","#ff0000","#ffffff"]}},"color":{"field":"l","type":"nominal","legend":null,"scale":{"domain":[1,2,3,4,5,6,7,8],"range":["#00c8ff","#00ffff","#00ee44","#00ff00","#ffff00","#ffbb00","#ff0000","#ffffff"]}}},
"layer":[
{"mark":{"type":"line","clip":true,"strokeWidth":1.5},"encoding":{"x":{"field":"x","type":"quantitative","axis":null,"scale":{"domain":[-477,383]}},"y":{"field":"y","type":"quantitative","axis":null,"scale":{"domain":[-456,439]}}}},
{"mark":{"type":"line","clip":true,"strokeWidth":1.5},"encoding":{"x":{"field":"x","type":"quantitative","axis":null,"scale":{"domain":[477,-383]}},"y":{"field":"y","type":"quantitative","axis":null,"scale":{"domain":[-456,439]}}}},
{"mark":{"type":"line","clip":true,"strokeWidth":1.5},"encoding":{"x":{"field":"x","type":"quantitative","axis":null,"scale":{"domain":[-477,383]}},"y":{"field":"y","type":"quantitative","axis":null,"scale":{"domain":[456,-439]}}}},
{"mark":{"type":"line","clip":true,"strokeWidth":1.5},"encoding":{"x":{"field":"x","type":"quantitative","axis":null,"scale":{"domain":[477,-383]}},"y":{"field":"y","type":"quantitative","axis":null,"scale":{"domain":[456,-439]}}}},
{"data":{"values":[{"t":"("}]},"mark":{"type":"text","font":"Liberation Serif","fontSize":80,"align":"center","baseline":"alphabetic"},"encoding":{"fill":{"value":"#000000"},"color":{"value":"#000000"},"x":{"datum":37,"type":"quantitative","axis":null,"scale":{"domain":[-477,383]}},"y":{"datum":-546,"type":"quantitative","axis":null,"scale":{"domain":[-456,439]}},"text":{"field":"t"}}},
{"data":{"values":[{"t":"f"}]},"mark":{"type":"text","font":"Liberation Serif","fontSize":80,"fontWeight":"bold","align":"center","baseline":"alphabetic"},"encoding":{"fill":{"value":"#000000"},"color":{"value":"#000000"},"x":{"datum":64,"type":"quantitative","axis":null,"scale":{"domain":[-477,383]}},"y":{"datum":-546,"type":"quantitative","axis":null,"scale":{"domain":[-456,439]}},"text":{"field":"t"}}},
{"data":{"values":[{"t":")"}]},"mark":{"type":"text","font":"Liberation Serif","fontSize":80,"align":"center","baseline":"alphabetic"},"encoding":{"fill":{"value":"#000000"},"color":{"value":"#000000"},"x":{"datum":91,"type":"quantitative","axis":null,"scale":{"domain":[-477,383]}},"y":{"datum":-546,"type":"quantitative","axis":null,"scale":{"domain":[-456,439]}},"text":{"field":"t"}}}
]},
{"width":284,"height":895,"resolve":{"scale":{"y":"independent"}},"layer":[
{"data":{"name":"bars"},"mark":{"type":"rect"},"encoding":{"x":{"datum":157,"type":"quantitative","axis":null,"scale":{"domain":[1,285]}},"x2":{"datum":202},"y":{"field":"lo","type":"quantitative","axis":null,"scale":{"domain":[-0.0322,1.0346]}},"y2":{"field":"hi"},"color":{"field":"c","type":"nominal","legend":null,"scale":{"range":["#0000ff","#0066ff","#00eeff","#00ffb0","#00ff00","#90ff00","#ffee00","#ff6a00","#ff0000"]}}}},
{"data":{"name":"ticks"},"mark":{"type":"rule","color":"#333333","strokeWidth":2},"encoding":{"x":{"datum":132,"type":"quantitative","axis":null,"scale":{"domain":[1,285]}},"x2":{"datum":157},"y":{"field":"v","type":"quantitative","axis":null,"scale":{"domain":[-0.0322,1.0346]}}}},
{"data":{"name":"ticks"},"mark":{"type":"text","align":"left","baseline":"middle","font":"Liberation Serif","fontSize":52,"color":"#222222"},"encoding":{"x":{"datum":37,"type":"quantitative","axis":null,"scale":{"domain":[1,285]}},"y":{"field":"v","type":"quantitative","axis":null,"scale":{"domain":[-0.0591,1.0632]}},"text":{"field":"v","type":"quantitative"}}}
]},
{"width":863,"height":897,"view":{"fill":"#0000ff"},"resolve":{"scale":{"x":"independent","y":"independent"}},"data":{"name":"g"},"encoding":{"detail":{"field":"g"},"order":{"value":null},"fill":{"field":"l","type":"nominal","legend":null,"scale":{"domain":[1,2,3,4,5,6,7,8],"range":["#00c8ff","#00ffff","#00ee44","#00ff00","#ffff00","#ffbb00","#ff0000","#ffffff"]}},"color":{"field":"l","type":"nominal","legend":null,"scale":{"domain":[1,2,3,4,5,6,7,8],"range":["#00c8ff","#00ffff","#00ee44","#00ff00","#ffff00","#ffbb00","#ff0000","#ffffff"]}}},
"layer":[
{"mark":{"type":"line","clip":true,"strokeWidth":1.5},"encoding":{"x":{"field":"x","type":"quantitative","axis":null,"scale":{"domain":[-478,385]}},"y":{"field":"y","type":"quantitative","axis":null,"scale":{"domain":[-456,441]}}}},
{"mark":{"type":"line","clip":true,"strokeWidth":1.5},"encoding":{"x":{"field":"x","type":"quantitative","axis":null,"scale":{"domain":[478,-385]}},"y":{"field":"y","type":"quantitative","axis":null,"scale":{"domain":[-456,441]}}}},
{"mark":{"type":"line","clip":true,"strokeWidth":1.5},"encoding":{"x":{"field":"x","type":"quantitative","axis":null,"scale":{"domain":[-478,385]}},"y":{"field":"y","type":"quantitative","axis":null,"scale":{"domain":[456,-441]}}}},
{"mark":{"type":"line","clip":true,"strokeWidth":1.5},"encoding":{"x":{"field":"x","type":"quantitative","axis":null,"scale":{"domain":[478,-385]}},"y":{"field":"y","type":"quantitative","axis":null,"scale":{"domain":[456,-441]}}}},
{"data":{"values":[{"t":"("}]},"mark":{"type":"text","font":"Liberation Serif","fontSize":80,"align":"center","baseline":"alphabetic"},"encoding":{"fill":{"value":"#000000"},"color":{"value":"#000000"},"x":{"datum":32,"type":"quantitative","axis":null,"scale":{"domain":[-478,385]}},"y":{"datum":-546,"type":"quantitative","axis":null,"scale":{"domain":[-456,441]}},"text":{"field":"t"}}},
{"data":{"values":[{"t":"g"}]},"mark":{"type":"text","font":"Liberation Serif","fontSize":80,"fontWeight":"bold","align":"center","baseline":"alphabetic"},"encoding":{"fill":{"value":"#000000"},"color":{"value":"#000000"},"x":{"datum":65,"type":"quantitative","axis":null,"scale":{"domain":[-478,385]}},"y":{"datum":-546,"type":"quantitative","axis":null,"scale":{"domain":[-456,441]}},"text":{"field":"t"}}},
{"data":{"values":[{"t":")"}]},"mark":{"type":"text","font":"Liberation Serif","fontSize":80,"align":"center","baseline":"alphabetic"},"encoding":{"fill":{"value":"#000000"},"color":{"value":"#000000"},"x":{"datum":98,"type":"quantitative","axis":null,"scale":{"domain":[-478,385]}},"y":{"datum":-546,"type":"quantitative","axis":null,"scale":{"domain":[-456,441]}},"text":{"field":"t"}}}
]},
{"width":317,"height":897,"resolve":{"scale":{"y":"independent"}},"layer":[
{"data":{"name":"bars"},"mark":{"type":"rect"},"encoding":{"x":{"datum":157,"type":"quantitative","axis":null,"scale":{"domain":[0,317]}},"x2":{"datum":202},"y":{"field":"lo","type":"quantitative","axis":null,"scale":{"domain":[-0.0322,1.0346]}},"y2":{"field":"hi"},"color":{"field":"c","type":"nominal","legend":null,"scale":{"range":["#0000ff","#0066ff","#00eeff","#00ffb0","#00ff00","#90ff00","#ffee00","#ff6a00","#ff0000"]}}}},
{"data":{"name":"ticks"},"mark":{"type":"rule","color":"#333333","strokeWidth":2},"encoding":{"x":{"datum":132,"type":"quantitative","axis":null,"scale":{"domain":[0,317]}},"x2":{"datum":157},"y":{"field":"v","type":"quantitative","axis":null,"scale":{"domain":[-0.0322,1.0346]}}}},
{"data":{"name":"ticks"},"mark":{"type":"text","align":"left","baseline":"middle","font":"Liberation Serif","fontSize":52,"color":"#222222"},"encoding":{"x":{"datum":37,"type":"quantitative","axis":null,"scale":{"domain":[0,317]}},"y":{"field":"v","type":"quantitative","axis":null,"scale":{"domain":[-0.0591,1.0632]}},"text":{"field":"v","type":"quantitative"}}}
]},
{"width":857,"height":897,"view":{"fill":"#0000ff"},"resolve":{"scale":{"x":"independent","y":"independent"}},"data":{"name":"h"},"encoding":{"detail":{"field":"g"},"order":{"value":null},"fill":{"field":"l","type":"nominal","legend":null,"scale":{"domain":[1,2,3,4,5,6,7,8],"range":["#00c8ff","#00ffff","#00ee44","#00ff00","#ffff00","#ffbb00","#ff0000","#ffffff"]}},"color":{"field":"l","type":"nominal","legend":null,"scale":{"domain":[1,2,3,4,5,6,7,8],"range":["#00c8ff","#00ffff","#00ee44","#00ff00","#ffff00","#ffbb00","#ff0000","#ffffff"]}}},
"layer":[
{"mark":{"type":"line","clip":true,"strokeWidth":1.5},"encoding":{"x":{"field":"x","type":"quantitative","axis":null,"scale":{"domain":[-475,382]}},"y":{"field":"y","type":"quantitative","axis":null,"scale":{"domain":[-456,441]}}}},
{"mark":{"type":"line","clip":true,"strokeWidth":1.5},"encoding":{"x":{"field":"x","type":"quantitative","axis":null,"scale":{"domain":[475,-382]}},"y":{"field":"y","type":"quantitative","axis":null,"scale":{"domain":[-456,441]}}}},
{"mark":{"type":"line","clip":true,"strokeWidth":1.5},"encoding":{"x":{"field":"x","type":"quantitative","axis":null,"scale":{"domain":[-475,382]}},"y":{"field":"y","type":"quantitative","axis":null,"scale":{"domain":[456,-441]}}}},
{"mark":{"type":"line","clip":true,"strokeWidth":1.5},"encoding":{"x":{"field":"x","type":"quantitative","axis":null,"scale":{"domain":[475,-382]}},"y":{"field":"y","type":"quantitative","axis":null,"scale":{"domain":[456,-441]}}}},
{"data":{"values":[{"t":"("}]},"mark":{"type":"text","font":"Liberation Serif","fontSize":80,"align":"center","baseline":"alphabetic"},"encoding":{"fill":{"value":"#000000"},"color":{"value":"#000000"},"x":{"datum":30.5,"type":"quantitative","axis":null,"scale":{"domain":[-475,382]}},"y":{"datum":-546,"type":"quantitative","axis":null,"scale":{"domain":[-456,441]}},"text":{"field":"t"}}},
{"data":{"values":[{"t":"h"}]},"mark":{"type":"text","font":"Liberation Serif","fontSize":80,"fontWeight":"bold","align":"center","baseline":"alphabetic"},"encoding":{"fill":{"value":"#000000"},"color":{"value":"#000000"},"x":{"datum":66,"type":"quantitative","axis":null,"scale":{"domain":[-475,382]}},"y":{"datum":-546,"type":"quantitative","axis":null,"scale":{"domain":[-456,441]}},"text":{"field":"t"}}},
{"data":{"values":[{"t":")"}]},"mark":{"type":"text","font":"Liberation Serif","fontSize":80,"align":"center","baseline":"alphabetic"},"encoding":{"fill":{"value":"#000000"},"color":{"value":"#000000"},"x":{"datum":101.5,"type":"quantitative","axis":null,"scale":{"domain":[-475,382]}},"y":{"datum":-546,"type":"quantitative","axis":null,"scale":{"domain":[-456,441]}},"text":{"field":"t"}}}
]},
{"width":319,"height":897,"resolve":{"scale":{"y":"independent"}},"layer":[
{"data":{"name":"bars"},"mark":{"type":"rect"},"encoding":{"x":{"datum":157,"type":"quantitative","axis":null,"scale":{"domain":[3,322]}},"x2":{"datum":202},"y":{"field":"lo","type":"quantitative","axis":null,"scale":{"domain":[-0.0322,1.0346]}},"y2":{"field":"hi"},"color":{"field":"c","type":"nominal","legend":null,"scale":{"range":["#0000ff","#0066ff","#00eeff","#00ffb0","#00ff00","#90ff00","#ffee00","#ff6a00","#ff0000"]}}}},
{"data":{"name":"ticks"},"mark":{"type":"rule","color":"#333333","strokeWidth":2},"encoding":{"x":{"datum":132,"type":"quantitative","axis":null,"scale":{"domain":[3,322]}},"x2":{"datum":157},"y":{"field":"v","type":"quantitative","axis":null,"scale":{"domain":[-0.0322,1.0346]}}}},
{"data":{"name":"ticks"},"mark":{"type":"text","align":"left","baseline":"middle","font":"Liberation Serif","fontSize":52,"color":"#222222"},"encoding":{"x":{"datum":37,"type":"quantitative","axis":null,"scale":{"domain":[3,322]}},"y":{"field":"v","type":"quantitative","axis":null,"scale":{"domain":[-0.0591,1.0632]}},"text":{"field":"v","type":"quantitative"}}}
]},
{"width":860,"height":897,"view":{"fill":"#0000ff"},"resolve":{"scale":{"x":"independent","y":"independent"}},"data":{"name":"i"},"encoding":{"detail":{"field":"g"},"order":{"value":null},"fill":{"field":"l","type":"nominal","legend":null,"scale":{"domain":[1,2,3,4,5,6,7,8],"range":["#00c8ff","#00ffff","#00ee44","#00ff00","#ffff00","#ffbb00","#ff0000","#ffffff"]}},"color":{"field":"l","type":"nominal","legend":null,"scale":{"domain":[1,2,3,4,5,6,7,8],"range":["#00c8ff","#00ffff","#00ee44","#00ff00","#ffff00","#ffbb00","#ff0000","#ffffff"]}}},
"layer":[
{"mark":{"type":"line","clip":true,"strokeWidth":1.5},"encoding":{"x":{"field":"x","type":"quantitative","axis":null,"scale":{"domain":[-477,383]}},"y":{"field":"y","type":"quantitative","axis":null,"scale":{"domain":[-456,441]}}}},
{"mark":{"type":"line","clip":true,"strokeWidth":1.5},"encoding":{"x":{"field":"x","type":"quantitative","axis":null,"scale":{"domain":[477,-383]}},"y":{"field":"y","type":"quantitative","axis":null,"scale":{"domain":[-456,441]}}}},
{"mark":{"type":"line","clip":true,"strokeWidth":1.5},"encoding":{"x":{"field":"x","type":"quantitative","axis":null,"scale":{"domain":[-477,383]}},"y":{"field":"y","type":"quantitative","axis":null,"scale":{"domain":[456,-441]}}}},
{"mark":{"type":"line","clip":true,"strokeWidth":1.5},"encoding":{"x":{"field":"x","type":"quantitative","axis":null,"scale":{"domain":[477,-383]}},"y":{"field":"y","type":"quantitative","axis":null,"scale":{"domain":[456,-441]}}}},
{"data":{"values":[{"t":"("}]},"mark":{"type":"text","font":"Liberation Serif","fontSize":80,"align":"center","baseline":"alphabetic"},"encoding":{"fill":{"value":"#000000"},"color":{"value":"#000000"},"x":{"datum":39.5,"type":"quantitative","axis":null,"scale":{"domain":[-477,383]}},"y":{"datum":-546,"type":"quantitative","axis":null,"scale":{"domain":[-456,441]}},"text":{"field":"t"}}},
{"data":{"values":[{"t":"i"}]},"mark":{"type":"text","font":"Liberation Serif","fontSize":80,"fontWeight":"bold","align":"center","baseline":"alphabetic"},"encoding":{"fill":{"value":"#000000"},"color":{"value":"#000000"},"x":{"datum":64,"type":"quantitative","axis":null,"scale":{"domain":[-477,383]}},"y":{"datum":-546,"type":"quantitative","axis":null,"scale":{"domain":[-456,441]}},"text":{"field":"t"}}},
{"data":{"values":[{"t":")"}]},"mark":{"type":"text","font":"Liberation Serif","fontSize":80,"align":"center","baseline":"alphabetic"},"encoding":{"fill":{"value":"#000000"},"color":{"value":"#000000"},"x":{"datum":88.5,"type":"quantitative","axis":null,"scale":{"domain":[-477,383]}},"y":{"datum":-546,"type":"quantitative","axis":null,"scale":{"domain":[-456,441]}},"text":{"field":"t"}}}
]},
{"width":284,"height":897,"resolve":{"scale":{"y":"independent"}},"layer":[
{"data":{"name":"bars"},"mark":{"type":"rect"},"encoding":{"x":{"datum":157,"type":"quantitative","axis":null,"scale":{"domain":[1,285]}},"x2":{"datum":202},"y":{"field":"lo","type":"quantitative","axis":null,"scale":{"domain":[-0.0322,1.0346]}},"y2":{"field":"hi"},"color":{"field":"c","type":"nominal","legend":null,"scale":{"range":["#0000ff","#0066ff","#00eeff","#00ffb0","#00ff00","#90ff00","#ffee00","#ff6a00","#ff0000"]}}}},
{"data":{"name":"ticks"},"mark":{"type":"rule","color":"#333333","strokeWidth":2},"encoding":{"x":{"datum":132,"type":"quantitative","axis":null,"scale":{"domain":[1,285]}},"x2":{"datum":157},"y":{"field":"v","type":"quantitative","axis":null,"scale":{"domain":[-0.0322,1.0346]}}}},
{"data":{"name":"ticks"},"mark":{"type":"text","align":"left","baseline":"middle","font":"Liberation Serif","fontSize":52,"color":"#222222"},"encoding":{"x":{"datum":37,"type":"quantitative","axis":null,"scale":{"domain":[1,285]}},"y":{"field":"v","type":"quantitative","axis":null,"scale":{"domain":[-0.0591,1.0632]}},"text":{"field":"v","type":"quantitative"}}}
]}
]}
